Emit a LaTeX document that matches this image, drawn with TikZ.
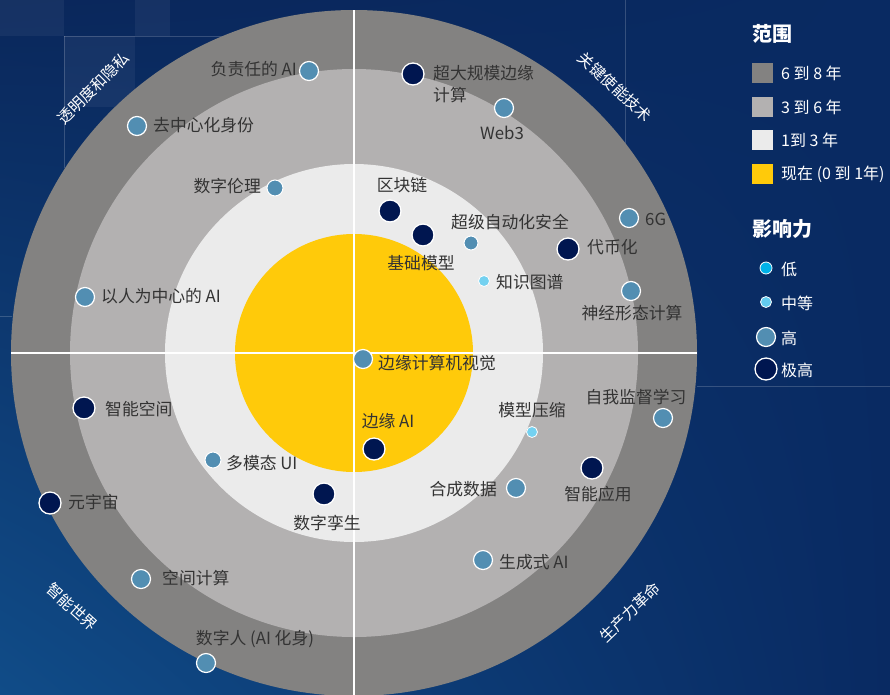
\documentclass[tikz,border=0pt]{standalone}
\usepackage{fontspec}
\usetikzlibrary{shadings}
\setmainfont{Noto Sans CJK SC}
\definecolor{bgtop}{HTML}{0A275B}
\definecolor{bgright}{HTML}{092A62}
\definecolor{bgbl}{HTML}{104C88}
\definecolor{ringA}{HTML}{838281}
\definecolor{ringB}{HTML}{B3B1B1}
\definecolor{ringC}{HTML}{EBEBEB}
\definecolor{ringD}{HTML}{FFCA0A}
\definecolor{dotX}{HTML}{001650}
\definecolor{dotH}{HTML}{528EB2}
\definecolor{dotM}{HTML}{74D1F0}
\definecolor{dotL}{HTML}{00B2E8}
\definecolor{lbl}{HTML}{333333}
\tikzset{
  base/.style={circle,draw=white,inner sep=0pt},
  ext/.style={base,fill=dotX,line width=1.3pt,minimum size=22pt},
  hig/.style={base,fill=dotH,line width=1.2pt,minimum size=19pt},
  higs/.style={base,fill=dotH,line width=1pt,minimum size=16pt},
  med/.style={base,fill=dotM,line width=0.8pt,minimum size=11pt},
  low/.style={base,fill=dotL,line width=0.8pt,minimum size=12pt},
  lab/.style={text=lbl,font=\fontsize{16.8}{22}\selectfont,inner sep=0pt},
  cat/.style={text=white,font=\fontsize{15.5}{18}\selectfont,inner sep=0pt},
  leg/.style={text=white,font=\fontsize{16}{18}\selectfont,inner sep=0pt,anchor=west},
  legh/.style={text=white,font=\bfseries\fontsize{20}{24}\selectfont,inner sep=0pt,anchor=west},
  faint/.style={draw=white,draw opacity=0.18,line width=0.6pt},
}
\begin{document}
\begin{tikzpicture}[x=1pt,y=-1pt]
\useasboundingbox (0,0) rectangle (890,694);
\clip (0,0) rectangle (890,694);
\shade[upper left=bgtop,upper right=bgright,lower left=bgbl,lower right=bgright] (0,0) rectangle (890,694);
% faint background squares and lines
\fill[white,opacity=0.05] (0,0) rectangle (64,36);
\fill[white,opacity=0.05] (64,36) rectangle (135,107);
\fill[white,opacity=0.05] (135,0) rectangle (170,36);
\draw[faint] (64,36) -- (64,168);
\draw[faint] (64,36) -- (225,36);
\draw[faint] (0,316) -- (12,316);
\draw[faint] (625,0) -- (625,145);
\draw[faint] (697,386) -- (890,386);
% rings
\coordinate (c) at (354,353);
\fill[ringA] (c) circle (343pt);
\fill[ringB] (c) circle (284pt);
\fill[ringC] (c) circle (189pt);
\fill[ringD] (c) circle (119pt);
\coordinate (hl) at (11,353);
\coordinate (hr) at (697,353);
\coordinate (vt) at (354,10);
\coordinate (vb) at (354,700);
\draw[white,line width=2.6pt] (hl) -- (hr);
\draw[white,line width=2.6pt] (vt) -- (vb);
% category labels
\node[cat,rotate=45] (k1) at (93,88) {透明度和隐私};
\node[cat,rotate=-43] (k2) at (615,87) {关键使能技术};
\node[cat,rotate=-42] (k3) at (72,607) {智能世界};
\node[cat,rotate=44] (k4) at (630,612) {生产力革命};
% items
\node[hig] (d1) at (309,71) {};
\node[lab,anchor=east] (t1) at (297,69) {负责任的 AI};
\node[hig] (d2) at (137,126) {};
\node[lab,anchor=west] (t2) at (153,125) {去中心化身份};
\node[higs] (d3) at (275,188) {};
\node[lab,anchor=east] (t3) at (261,186) {数字伦理};
\node[ext] (d4) at (413,74) {};
\node[lab,anchor=west,align=left] (t4) at (433,84) {超大规模边缘\\计算};
\node[hig] (d5) at (504,108) {};
\node[lab] (t5) at (502,133) {Web3};
\node[lab] (t6) at (402,185) {区块链};
\node[ext] (d6) at (390,211) {};
\node[ext] (d7) at (423,235) {};
\node[lab] (t7) at (421,263) {基础模型};
\node[lab] (t8) at (510,222) {超级自动化安全};
\node[base,fill=dotH,line width=1pt,minimum size=14pt] (d8) at (471,243) {};
\node[med] (d9) at (484,281) {};
\node[lab,anchor=west] (t9) at (496,282) {知识图谱};
\node[ext] (d10) at (568,249) {};
\node[lab,anchor=west] (t10) at (587,247) {代币化};
\node[hig] (d11) at (629,218) {};
\node[lab,anchor=west] (t11) at (645,219) {6G};
\node[hig] (d12) at (631,291) {};
\node[lab] (t12) at (632,313) {神经形态计算};
\node[hig] (d13) at (85,297) {};
\node[lab,anchor=west] (t13) at (101,296) {以人为中心的 AI};
\node[hig] (d14) at (363,359) {};
\node[lab,anchor=west] (t14) at (378,363) {边缘计算机视觉};
\node[ext] (d15) at (84,408) {};
\node[lab,anchor=west] (t15) at (105,409) {智能空间};
\node[lab] (t16) at (636,397) {自我监督学习};
\node[hig] (d16) at (663,418) {};
\node[lab] (t17) at (532,410) {模型压缩};
\node[med] (d17) at (532,432) {};
\node[lab] (t18) at (388,421) {边缘 AI};
\node[ext] (d18) at (374,449) {};
\node[higs] (d19) at (213,460) {};
\node[lab,anchor=west] (t19) at (226,463) {多模态 UI};
\node[ext] (d20) at (324,494) {};
\node[lab] (t20) at (327,523) {数字孪生};
\node[hig] (d21) at (516,488) {};
\node[lab,anchor=east] (t21) at (497,489) {合成数据};
\node[ext] (d22) at (592,468) {};
\node[lab] (t22) at (598,494) {智能应用};
\node[ext] (d23) at (50,503) {};
\node[lab,anchor=west] (t23) at (68,502) {元宇宙};
\node[hig] (d24) at (141,579) {};
\node[lab,anchor=west] (t24) at (162,578) {空间计算};
\node[hig] (d25) at (483,560) {};
\node[lab,anchor=west] (t25) at (499,562) {生成式 AI};
\node[lab] (t26) at (255,639) {数字人 (AI 化身)};
\node[hig] (d26) at (206,663) {};
% legend
\node[legh] (h1) at (752,34) {范围};
\fill[ringA] (752,63) rectangle (773,83);
\node[leg] (l1) at (781,73) {6 到 8 年};
\fill[ringB] (752,97) rectangle (773,117);
\node[leg] (l2) at (781,107) {3 到 6 年};
\fill[ringC] (752,130) rectangle (773,150);
\node[leg] (l3) at (781,140) {1到 3 年};
\fill[ringD] (752,164) rectangle (773,184);
\node[leg] (l4) at (781,174) {现在 (0 到 1年)};
\node[legh] (h2) at (752,229) {影响力};
\node[low] (g1) at (766,268) {};
\node[leg] (m1) at (781,269) {低};
\node[med,fill=dotM!85!dotL] (g2) at (766,302) {};
\node[leg] (m2) at (781,303) {中等};
\node[hig] (g3) at (766,337) {};
\node[leg] (m3) at (781,338) {高};
\node[ext] (g4) at (766,369) {};
\node[leg] (m4) at (781,370) {极高};
\end{tikzpicture}
\end{document}
